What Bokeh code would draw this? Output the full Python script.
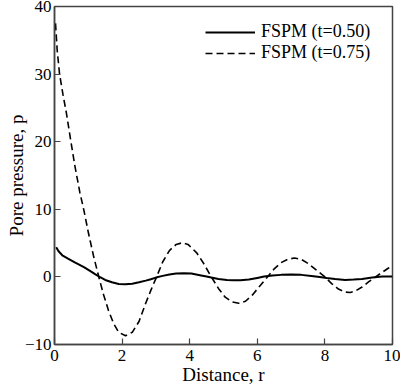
from bokeh.plotting import figure
from bokeh.models import Legend, LegendItem, FixedTicker, Range1d, ColumnDataSource
from bokeh.embed import file_html
from bokeh.resources import INLINE

# Data
r_050 = [0.05, 0.12, 0.23, 0.4, 0.6, 0.87, 1.05, 1.2, 1.35, 1.5, 1.7, 1.9, 2.1, 2.3, 2.5,
         2.7, 2.85, 3.0, 3.2, 3.4, 3.6, 3.83, 4.05, 4.3, 4.5, 4.64, 4.85, 5.1, 5.3, 5.5,
         5.75, 6.0, 6.2, 6.45, 6.7, 7.0, 7.3, 7.6, 7.85, 8.05, 8.3, 8.6, 8.85, 9.1, 9.4,
         9.7, 10.0]
p_050 = [4.4, 3.8, 3.2, 2.7, 2.15, 1.45, 0.9, 0.4, -0.05, -0.45, -0.8, -1.05, -1.1, -1.0, -0.8,
         -0.55, -0.35, -0.1, 0.15, 0.35, 0.5, 0.55, 0.5, 0.25, 0.05, -0.1, -0.3, -0.45, -0.5, -0.5,
         -0.4, -0.15, 0.05, 0.2, 0.3, 0.35, 0.3, 0.15, 0.0, -0.15, -0.3, -0.45, -0.4, -0.3, -0.1,
         0.05, 0.05]

r_075 = [0.03, 0.08, 0.15, 0.25, 0.35, 0.47, 0.6, 0.75, 0.87, 1.0, 1.15, 1.31, 1.45, 1.6, 1.75,
         1.9, 2.1, 2.3, 2.5, 2.69, 2.85, 3.02, 3.2, 3.4, 3.6, 3.78, 3.95, 4.2, 4.4, 4.64,
         4.85, 5.05, 5.25, 5.45, 5.65, 5.85, 6.05, 6.3, 6.5, 6.7, 6.9, 7.1, 7.3, 7.5, 7.75,
         8.0, 8.2, 8.4, 8.6, 8.75, 8.9, 9.1, 9.3, 9.5, 9.7, 9.85, 10.0]
p_075 = [37.5, 33.5, 30.0, 27.0, 24.3, 20.5, 16.5, 12.5, 9.85, 6.6, 3.2, 0.0, -2.6, -5.0, -6.9,
         -8.2, -8.7, -8.2, -6.6, -4.0, -2.0, 0.0, 2.2, 3.9, 4.8, 5.05, 4.8, 3.6, 2.1, 0.0,
         -1.7, -3.0, -3.7, -3.9, -3.6, -2.7, -1.5, 0.0, 1.2, 2.1, 2.6, 2.8, 2.6, 2.0, 1.0,
         0.0, -1.0, -1.8, -2.25, -2.3, -2.1, -1.5, -0.7, 0.0, 0.7, 1.2, 1.7]

x_ticks = [0, 2, 4, 6, 8, 10]
y_ticks = [-10, 0, 10, 20, 30, 40]
labels = ["FSPM (t=0.50)", "FSPM (t=0.75)"]
x_title = "Distance, r"
y_title = "Pore pressure, p"

SERIF = "Liberation Serif"
INK = "#000000"
FRAME = "#444444"

p = figure(width=400, height=387, x_range=Range1d(0, 10), y_range=Range1d(-10, 40),
           output_backend="svg", toolbar_location=None,
           min_border_left=54, min_border_right=8, min_border_top=6, min_border_bottom=43)

src1 = ColumnDataSource(dict(x=r_050, y=p_050))
src2 = ColumnDataSource(dict(x=r_075, y=p_075))
l1 = p.line("x", "y", source=src1, line_color=INK, line_width=2)
l2 = p.line("x", "y", source=src2, line_color=INK, line_width=1.6, line_dash="7 4")

p.grid.visible = False
p.outline_line_color = FRAME
p.outline_line_width = 1.5
p.background_fill_color = "white"
p.border_fill_color = "white"

for ax in (p.xaxis[0], p.yaxis[0]):
    ax.axis_line_color = FRAME
    ax.axis_line_width = 1.5
    ax.major_tick_line_color = FRAME
    ax.major_tick_line_width = 1.2
    ax.major_tick_in = 6
    ax.major_tick_out = 0
    ax.minor_tick_line_color = None
    ax.major_label_text_font = SERIF
    ax.major_label_text_font_size = "17px"
    ax.major_label_text_color = INK
    ax.axis_label_text_font = SERIF
    ax.axis_label_text_font_size = "19px"
    ax.axis_label_text_font_style = "normal"
    ax.axis_label_text_color = INK

p.xaxis.ticker = FixedTicker(ticks=x_ticks)
p.yaxis.ticker = FixedTicker(ticks=y_ticks)
p.yaxis.major_label_overrides = {-10: "\u221210"}
p.xaxis.major_label_standoff = 5
p.yaxis.major_label_standoff = 3
p.xaxis.axis_label_standoff = 0
p.yaxis.axis_label_standoff = -5
p.xaxis.axis_label = x_title
p.yaxis.axis_label = y_title

legend = Legend(items=[LegendItem(label=labels[0], renderers=[l1]),
                       LegendItem(label=labels[1], renderers=[l2])],
                location=(151, 281), label_text_font=SERIF, label_text_font_size="18px",
                label_text_color=INK, glyph_width=50, glyph_height=18, label_height=18,
                spacing=0, padding=0, margin=0, label_standoff=6,
                border_line_color=None, background_fill_alpha=0)
p.add_layout(legend)

open("out.html", "w").write(file_html(p, INLINE))
